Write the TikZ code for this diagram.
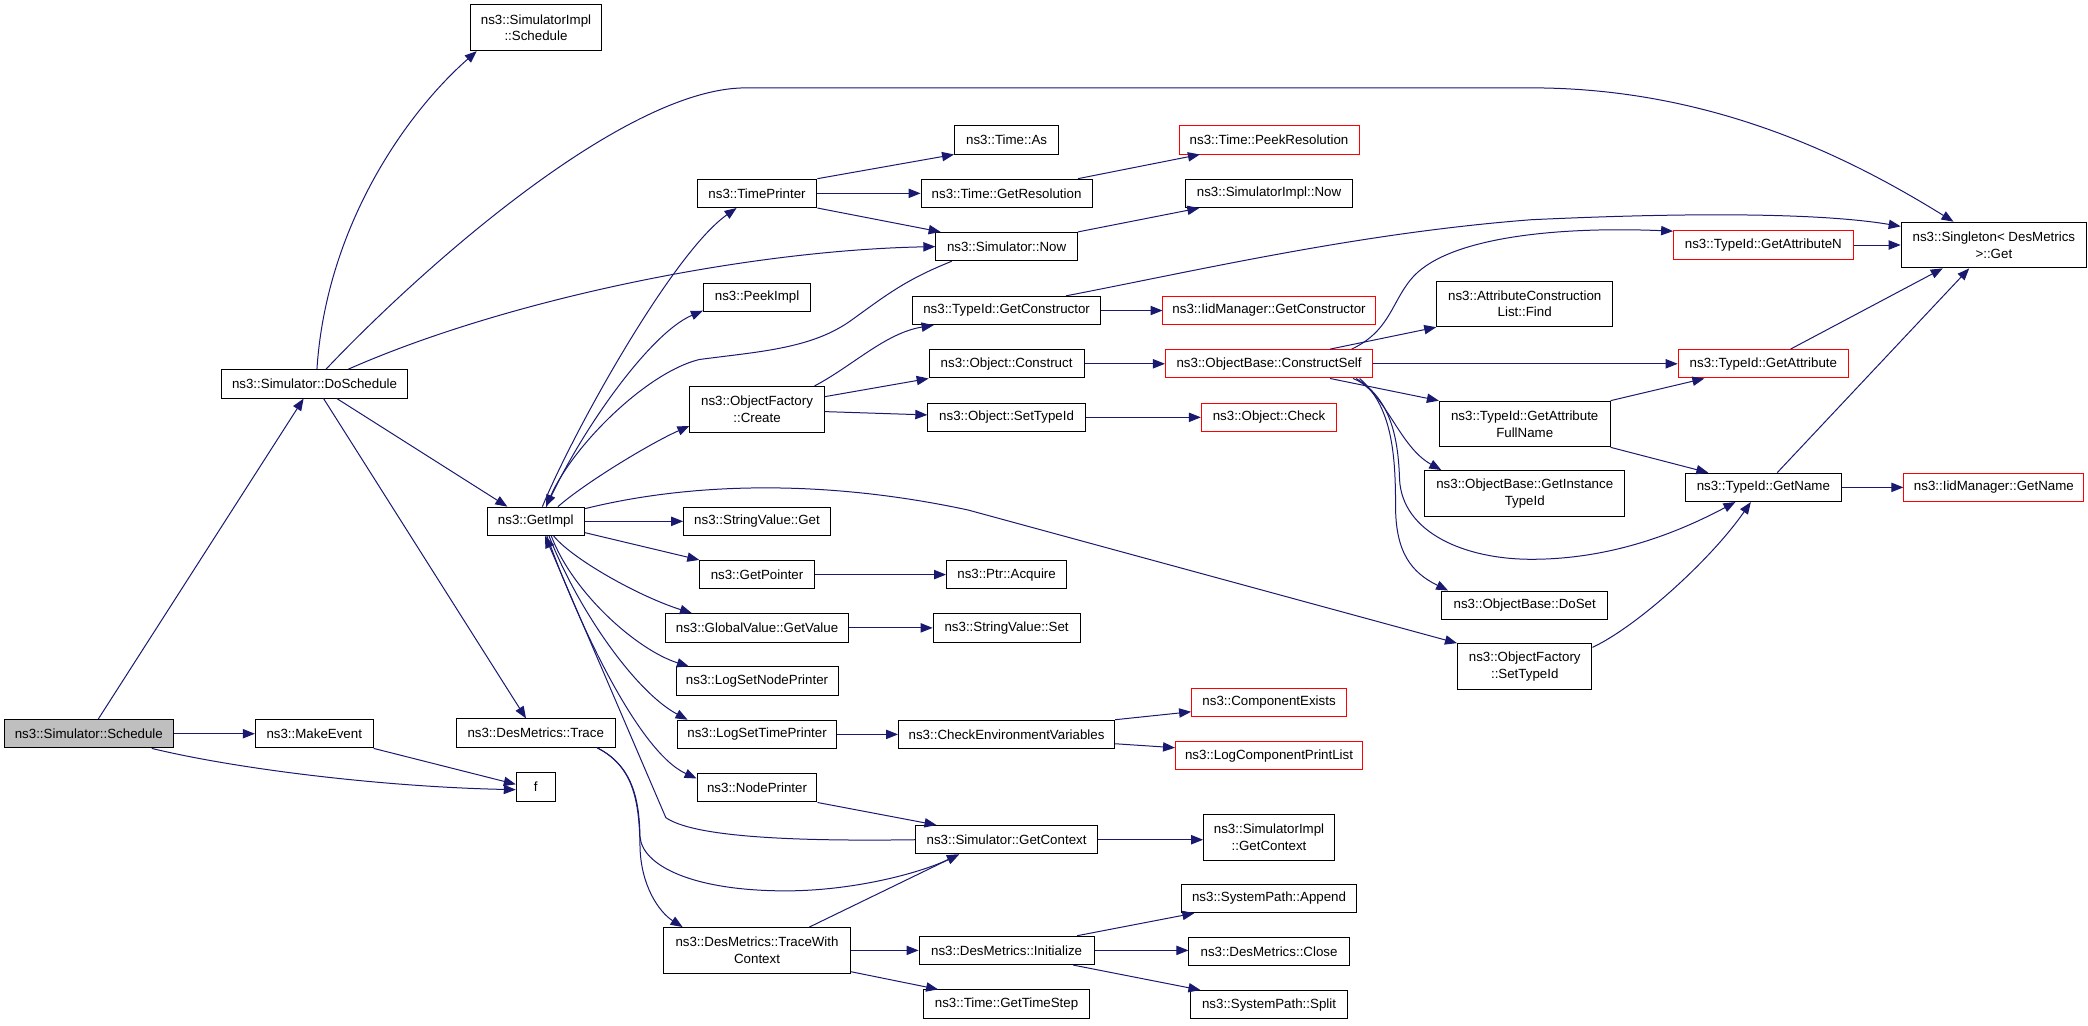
\documentclass[tikz,border=0pt]{standalone}
\usepackage{fontspec}
\setmainfont{Liberation Sans}
\usetikzlibrary{arrows.meta,calc}
\definecolor{edgec}{HTML}{191970}
\definecolor{grayfill}{HTML}{BFBFBF}
\begin{document}
\begin{tikzpicture}[x=1pt,y=-1pt,
  nd/.style={draw=black,line width=0.75pt,fill=white,inner sep=0pt,minimum height=21.3pt,font=\fontsize{10}{12.5}\selectfont,align=center},
  nd2/.style={nd,minimum height=34.3pt},
  rednd/.style={draw=red},
  edg/.style={draw=edgec,line width=0.75pt,-{Triangle[length=9pt,width=7pt]}},
]
\useasboundingbox (0,0) rectangle (1568,769.8);
% column 0-2
\node[nd,minimum width=126.7pt,fill=grayfill] (sched) at (66.7,551) {ns3::Simulator::Schedule};
\node[nd,minimum width=139.2pt] (dosched) at (236.2,288.3) {ns3::Simulator::DoSchedule};
\node[nd,minimum width=88.5pt] (makeev) at (236,551) {ns3::MakeEvent};
\node[nd2,minimum width=98.2pt] (simimplsch) at (402.5,20.9) {ns3::SimulatorImpl\\::Schedule};
\node[nd,minimum width=73.1pt] (getimpl) at (402.3,391.5) {ns3::GetImpl};
\node[nd,minimum width=119.3pt] (trace) at (402.3,550.5) {ns3::DesMetrics::Trace};
\node[nd,minimum width=29.2pt] (f) at (402.3,591) {f};
% column 3
\node[nd,minimum width=90pt] (timeprinter) at (568.5,145.2) {ns3::TimePrinter};
\node[nd,minimum width=80.5pt] (peekimpl) at (568.5,223.3) {ns3::PeekImpl};
\node[nd2,minimum width=100.8pt] (create) at (568.5,307.4) {ns3::ObjectFactory\\::Create};
\node[nd,minimum width=110.2pt] (svget) at (568.5,391.5) {ns3::StringValue::Get};
\node[nd,minimum width=86pt] (getpointer) at (568.5,431.5) {ns3::GetPointer};
\node[nd,minimum width=137.8pt] (getvalue) at (568.5,471.5) {ns3::GlobalValue::GetValue};
\node[nd,minimum width=121.6pt] (lsnp) at (568.5,511.5) {ns3::LogSetNodePrinter};
\node[nd,minimum width=119.6pt] (lstp) at (568.5,551.5) {ns3::LogSetTimePrinter};
\node[nd,minimum width=90pt] (nodeprinter) at (568.5,591.6) {ns3::NodePrinter};
\node[nd2,minimum width=140.4pt] (twc) at (568.5,713.7) {ns3::DesMetrics::TraceWith\\Context};
% column 4
\node[nd,minimum width=78.2pt] (timeas) at (755.9,105) {ns3::Time::As};
\node[nd,minimum width=128.4pt] (getres) at (755.9,145.2) {ns3::Time::GetResolution};
\node[nd,minimum width=106.3pt] (simnow) at (755.9,185.2) {ns3::Simulator::Now};
\node[nd,minimum width=140.9pt] (getctor) at (755.9,233.2) {ns3::TypeId::GetConstructor};
\node[nd,minimum width=116.3pt] (construct) at (755.9,273.2) {ns3::Object::Construct};
\node[nd,minimum width=118.3pt] (objsettid) at (755.9,313.4) {ns3::Object::SetTypeId};
\node[nd,minimum width=90.2pt] (acquire) at (755.9,431.5) {ns3::Ptr::Acquire};
\node[nd,minimum width=110.3pt] (svset) at (755.9,471.5) {ns3::StringValue::Set};
\node[nd,minimum width=162.3pt] (checkenv) at (755.9,551.5) {ns3::CheckEnvironmentVariables};
\node[nd,minimum width=136.5pt] (getctx) at (755.9,630.6) {ns3::Simulator::GetContext};
\node[nd,minimum width=131.4pt] (init) at (755.9,713.7) {ns3::DesMetrics::Initialize};
\node[nd,minimum width=124.1pt] (timestep) at (755.9,754) {ns3::Time::GetTimeStep};
% column 5
\node[nd,rednd,minimum width=135.1pt] (peekres) at (953,105) {ns3::Time::PeekResolution};
\node[nd,minimum width=125.4pt] (simimplnow) at (953,145.2) {ns3::SimulatorImpl::Now};
\node[nd,rednd,minimum width=159.3pt] (iidgetctor) at (953,233.2) {ns3::IidManager::GetConstructor};
\node[nd,rednd,minimum width=155.6pt] (constructself) at (953,273.2) {ns3::ObjectBase::ConstructSelf};
\node[nd,rednd,minimum width=101.6pt] (check) at (953,313.4) {ns3::Object::Check};
\node[nd,rednd,minimum width=116.3pt] (compexists) at (953,527.5) {ns3::ComponentExists};
\node[nd,rednd,minimum width=140.5pt] (lcpl) at (953,567.5) {ns3::LogComponentPrintList};
\node[nd2,minimum width=98.3pt] (simimplctx) at (953,628.8) {ns3::SimulatorImpl\\::GetContext};
\node[nd,minimum width=131.4pt] (append) at (953,674.7) {ns3::SystemPath::Append};
\node[nd,minimum width=120.3pt] (close) at (953,714.4) {ns3::DesMetrics::Close};
\node[nd,minimum width=118.3pt] (split) at (953,754.5) {ns3::SystemPath::Split};
% column 6
\node[nd2,minimum width=132.2pt] (find) at (1145,228.2) {ns3::AttributeConstruction\\List::Find};
\node[nd2,minimum width=128.2pt] (fullname) at (1145,318.4) {ns3::TypeId::GetAttribute\\FullName};
\node[nd2,minimum width=150pt] (instid) at (1145,370.5) {ns3::ObjectBase::GetInstance\\TypeId};
\node[nd,minimum width=124.3pt] (doset) at (1145,454.5) {ns3::ObjectBase::DoSet};
\node[nd2,minimum width=101pt] (ofsettid) at (1145,500.5) {ns3::ObjectFactory\\::SetTypeId};
% column 7-8
\node[nd,rednd,minimum width=134.8pt] (getattrn) at (1324.2,184) {ns3::TypeId::GetAttributeN};
\node[nd,rednd,minimum width=127.9pt] (getattr) at (1324.2,273.2) {ns3::TypeId::GetAttribute};
\node[nd,minimum width=116.9pt] (getname) at (1324.2,366) {ns3::TypeId::GetName};
\node[nd2,minimum width=139.2pt] (singleton) at (1497.3,184) {ns3::Singleton< DesMetrics\\>::Get};
\node[nd,rednd,minimum width=135.2pt] (iidgetname) at (1497.3,366) {ns3::IidManager::GetName};

% edges
\draw[edg] ($(sched.north)+(7.1,0)$) -- ($(dosched.south)+(-8.2,0)$);
\draw[edg] (sched.east) -- (makeev.west);
\draw[edg] ($(sched.south)+(47.3,0)$) .. controls (180,578) and (290,591) .. ($(f.west)+(0,2)$);
\draw[edg] (makeev.south east) -- ($(f.west)+(0,-2)$);
\draw[edg] ($(dosched.north)+(1.8,0)$) .. controls (245,170) and (305,85) .. ($(simimplsch.south west)+(5,0)$);
\draw[edg] ($(dosched.north)+(8.6,0)$) .. controls (320,198) and (470,66) .. (560,66) -- (1150,66) .. controls (1290,66) and (1395,122) .. ($(singleton.north)+(-30.3,0)$);
\draw[edg] ($(dosched.north)+(25.3,0)$) .. controls (380,225) and (560,188) .. (simnow.west);
\draw[edg] ($(dosched.south)+(16.8,0)$) -- ($(getimpl.north)+(-21.3,0)$);
\draw[edg] ($(dosched.south)+(6.8,0)$) -- ($(trace.north)+(-7.3,0)$);
\draw[edg] ($(getimpl.north)+(5,0)$) .. controls (430,325) and (505,190) .. ($(timeprinter.south west)+(30,0)$);
\draw[edg] ($(getimpl.north)+(8,0)$) .. controls (435,325) and (488,250) .. ($(peekimpl.south west)+(0,-1)$);
\draw[edg] ($(getimpl.north)+(16.7,0)$) .. controls (440,362) and (490,332) .. ($(create.south west)+(0,-5)$);
\draw[edg] (getimpl.east) -- (svget.west);
\draw[edg] ($(getimpl.east)+(0,8.5)$) -- (getpointer.north west);
\draw[edg] ($(getimpl.south)+(13.5,0)$) .. controls (430,420) and (480,448) .. ($(getvalue.north west)+(20.4,0)$);
\draw[edg] ($(getimpl.south)+(11.7,0)$) .. controls (430,445) and (478,488) .. ($(lsnp.north west)+(10,0)$);
\draw[edg] ($(getimpl.south)+(10,0)$) .. controls (435,460) and (478,520) .. ($(lstp.north west)+(8,0)$);
\draw[edg] ($(getimpl.south)+(8.4,0)$) .. controls (435,470) and (480,565) .. ($(nodeprinter.west)+(0,-7)$);
\draw[edg] ($(getimpl.east)+(0,-9.5)$) .. controls (520,362) and (620,360) .. (727,383) -- (ofsettid.north west);
\draw[edg] ($(simnow.south west)+(12.3,0)$) .. controls (680,210) and (665,222) .. (640,240) .. controls (610,262) and (570,264) .. (525,270) .. controls (485,280) and (430,335) .. ($(getimpl.north)+(7.7,0)$);
\draw[edg] (getctx.west) .. controls (590,632) and (520,628) .. (500,614) -- ($(getimpl.south)+(7,0)$);
\draw[edg] ($(trace.south east)+(-14,0)$) .. controls (475,575) and (480,600) .. (480.6,628) .. controls (482,650) and (520,669) .. (590,669) .. controls (640,669) and (690,656) .. ($(getctx.south)+(-35.7,0)$);
\draw[edg] ($(trace.south east)+(-14,0)$) .. controls (475,575) and (480,600) .. (480.6,635) .. controls (481,665) and (495,685) .. ($(twc.north west)+(14.7,0)$);
\draw[edg] ($(twc.north)+(39.3,0)$) -- ($(getctx.south)+(-35.7,0)$);
\draw[edg] (twc.east) -- (init.west);
\draw[edg] ($(twc.south east)+(0,-1.5)$) -- ($(timestep.north west)+(11,0)$);
\draw[edg] ($(init.north)+(53,0)$) -- ($(append.south west)+(10,0)$);
\draw[edg] (init.east) -- (init.east -| close.west);
\draw[edg] ($(init.south)+(50,0)$) -- ($(split.north west)+(8,0)$);
\draw[edg] (nodeprinter.south east) -- ($(getctx.north west)+(16,0)$);
\draw[edg] (getctx.east) -- (getctx.east -| simimplctx.west);
\draw[edg] (lstp.east) -- (checkenv.west);
\draw[edg] (checkenv.north east) -- ($(compexists.west)+(0,7)$);
\draw[edg] ($(checkenv.south east)+(0,-4)$) -- ($(lcpl.west)+(0,-6)$);
\draw[edg] (getpointer.east) -- (acquire.west);
\draw[edg] (getvalue.east) -- (svset.west);
\draw[edg] (timeprinter.north east) -- (timeas.south west);
\draw[edg] (timeprinter.east) -- (getres.west);
\draw[edg] (timeprinter.south east) -- ($(simnow.north west)+(4,0)$);
\draw[edg] ($(getres.north east)+(-11,0)$) -- ($(peekres.south west)+(16,0)$);
\draw[edg] (simnow.north east) -- ($(simimplnow.south west)+(10.7,0)$);
\draw[edg] (getctor.east) -- (iidgetctor.west);
\draw[edg] ($(getctor.north)+(44.6,0)$) .. controls (900,203) and (1020,175) .. (1150,165) .. controls (1300,158) and (1380,162) .. ($(singleton.west)+(0,-14)$);
\draw[edg] ($(create.north east)+(-7.7,0)$) .. controls (640,275) and (665,250) .. ($(getctor.south west)+(16,0)$);
\draw[edg] ($(create.east)+(0,-9.5)$) -- (construct.south west);
\draw[edg] ($(create.east)+(0,1.7)$) -- ($(objsettid.west)+(0,-1.8)$);
\draw[edg] (construct.east) -- (constructself.west);
\draw[edg] (objsettid.east) -- (check.west);
\draw[edg] ($(constructself.north)+(62,0)$) .. controls (1045,248) and (1045,225) .. (1062,207) .. controls (1090,178) and (1170,170) .. ($(getattrn.north west)+(0,0.6)$);
\draw[edg] ($(constructself.north)+(45.8,0)$) -- (find.south west);
\draw[edg] (constructself.east) -- (getattr.west);
\draw[edg] ($(constructself.south)+(45.8,0)$) -- (fullname.north west);
\draw[edg] ($(constructself.south)+(63,0)$) .. controls (1040,293) and (1050,335) .. ($(instid.north west)+(12.7,0)$);
\draw[edg] ($(constructself.south)+(65.4,0)$) .. controls (1045,300) and (1050,330) .. (1051,360) .. controls (1053,400) and (1100,420) .. (1150,420) .. controls (1210,420) and (1260,400) .. ($(getname.south)+(-21,0)$);
\draw[edg] ($(constructself.south)+(68,0)$) .. controls (1045,305) and (1048,340) .. (1048,380) .. controls (1048,415) and (1060,430) .. ($(doset.north west)+(5,0)$);
\draw[edg] (getattrn.east) -- (singleton.west);
\draw[edg] ($(getattr.north)+(20.4,0)$) -- ($(singleton.south)+(-38.4,0)$);
\draw[edg] ($(getname.north)+(10.4,0)$) -- ($(singleton.south)+(-18.5,0)$);
\draw[edg] (fullname.north east) -- ($(getattr.south west)+(20,0)$);
\draw[edg] (fullname.south east) -- ($(getname.north west)+(17.5,0)$);
\draw[edg] (getname.east) -- (iidgetname.west);
\draw[edg] ($(ofsettid.north east)+(0,3.2)$) .. controls (1230,470) and (1285,420) .. ($(getname.south)+(-9.4,0)$);
\end{tikzpicture}
\end{document}
